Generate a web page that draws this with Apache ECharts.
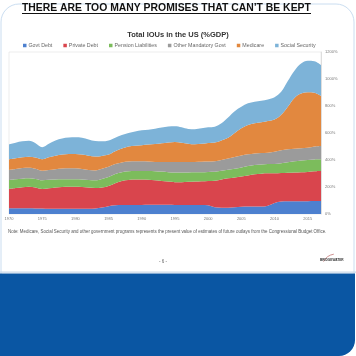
<!DOCTYPE html>
<html><head><meta charset="utf-8">
<script src="https://cdn.jsdelivr.net/npm/echarts@6/dist/echarts.min.js"></script>
<style>html,body{margin:0;padding:0;background:#fff}#c{width:356px;height:356px}</style>
</head><body><div id="c"></div>
<script>
const years = ['1970','1971','1972','1973','1974','1975','1976','1977','1978','1979','1980','1981','1982','1983','1984','1985','1986','1987','1988','1989','1990','1991','1992','1993','1994','1995','1996','1997','1998','1999','2000','2001','2002','2003','2004','2005','2006','2007','2008','2009','2010','2011','2012','2013','2014','2015','2016','2017'];
const govtDebt = [42,42,42,42,41,40,38,38,38,38,38,38,38,40,48,58,64,66,67,67,67,68,68,68,68,67,67,67,67,67,65,50,47,47,50,54,55,56,56,62,82,92,95,94,94,95,96,96];
const privateDebt = [143,150,156,160,155,145,152,158,162,164,164,162,158,152,148,150,164,179,185,188,188,185,182,177,172,169,169,171,173,175,179,196,208,217,220,223,231,238,243,239,219,211,211,214,216,217,220,222];
const pensionLiab = [67,66,64,62,64,65,64,60,57,55,55,55,56,58,64,67,68,65,64,63,63,65,67,69,70,72,72,70,69,68,68,67,65,64,66,68,69,69,68,69,70,73,77,82,86,88,88,87];
const otherMandatory = [74,75,78,79,75,70,72,76,80,81,81,78,74,72,75,75,74,72,72,72,72,70,69,72,76,78,78,78,77,77,76,77,80,84,86,88,87,86,85,84,91,96,96,94,91,90,96,99];
const medicare = [79,80,80,82,83,85,94,100,103,106,106,107,106,104,95,90,95,103,112,116,120,126,132,138,144,148,142,134,130,133,138,140,145,153,178,202,218,223,228,235,238,263,316,376,405,412,398,370];
const socialSecurity = [111,115,118,118,107,90,100,113,120,122,124,125,120,114,108,105,100,100,100,106,110,111,114,116,118,116,114,110,112,115,116,117,127,150,162,160,160,160,158,160,165,170,190,202,223,233,234,230];
const seriesNames = ['Govt Debt','Private Debt','Pension Liabilities','Other Mandatory Govt','Medicare','Social Security'];
const seriesData = [govtDebt, privateDebt, pensionLiab, otherMandatory, medicare, socialSecurity];
const colors = ['#4d80cf','#d9454d','#7cbc5c','#9b9b9b','#e2883f','#7db3d8'];

const chart = echarts.init(document.getElementById('c'), null, {renderer:'canvas'});
const series = seriesNames.map((n,i)=>({
  name:n, type:'line', stack:'total', smooth:0.35, symbol:'none',
  lineStyle:{width:0}, areaStyle:{color:colors[i], opacity:1}, itemStyle:{color:colors[i]},
  data: seriesData[i]
}));
chart.setOption({
  animation:false,
  color:colors,
  title:{text:'Total IOUs in the US (%GDP)', left:'center', top:26,
    textStyle:{fontSize:7.5, fontWeight:'bold', color:'#333', fontFamily:'Liberation Sans'}},
  legend:{top:38, left:18, itemWidth:3.5, itemHeight:3.5, itemGap:11, icon:'rect',
    textStyle:{fontSize:5.3, color:'#666', fontFamily:'Liberation Sans', padding:[0,0,0,-3]},
    data:seriesNames},
  grid:{left:9, right:35, top:52, bottom:142, show:true, borderColor:'#e0e0e0', borderWidth:0.6, backgroundColor:'#fff'},
  xAxis:{type:'category', data:years, boundaryGap:false,
    axisLine:{show:false}, axisTick:{show:false}, splitLine:{show:false},
    axisLabel:{fontSize:4, color:'#777', margin:3, fontFamily:'Liberation Sans',
      interval:(idx,val)=>Number(val)%5===0}},
  yAxis:{type:'value', position:'right', min:0, max:1200, interval:200,
    axisLine:{show:true, lineStyle:{color:'#ccc', width:0.6}}, axisTick:{show:false}, splitLine:{show:false},
    axisLabel:{fontSize:4, color:'#777', margin:4, fontFamily:'Liberation Sans', formatter:v=>v+'%'}},
  series:series,
  graphic:[
    {type:'rect', shape:{x:1, y:4, width:353, height:351, r:18}, style:{fill:'none', stroke:'#bcd4ec', lineWidth:0.8}, z:-1},
    {type:'text', left:22, top:3, style:{text:'THERE ARE TOO MANY PROMISES THAT CAN\u2019T BE KEPT', fontSize:10.4, fontWeight:'bold', fill:'#111', fontFamily:'Liberation Sans'}},
    {type:'line', shape:{x1:22, y1:13.5, x2:311, y2:13.5}, style:{stroke:'#111', lineWidth:1}},
    {type:'text', left:8, top:230, style:{text:'Note: Medicare, Social Security and other government programs represents the present value of estimates of future outlays from the Congressional Budget Office.', fontSize:4.45, fill:'#555', fontFamily:'Liberation Sans'}},
    {type:'text', left:159, top:259, style:{text:'- 6 -', fontSize:4.5, fill:'#666', fontFamily:'Liberation Sans'}},
    {type:'arc', shape:{cx:336, cy:268, r:14, startAngle:Math.PI*1.15, endAngle:Math.PI*1.45}, style:{stroke:'#b04a4a', lineWidth:0.6, fill:'none'}},
    {type:'text', left:320, top:259, style:{text:'BRIDGEWATER', fontSize:3.2, fontWeight:'bold', fill:'#333', fontFamily:'Liberation Sans'}},
    {type:'rect', shape:{x:0, y:271.5, width:356, height:1.2}, style:{fill:'#c9d9ea'}},
    {type:'rect', shape:{x:0, y:273.5, width:355, height:82.5, r:[0,0,16,0]}, style:{fill:'#0a56a3'}}
  ]
});
</script></body></html>
